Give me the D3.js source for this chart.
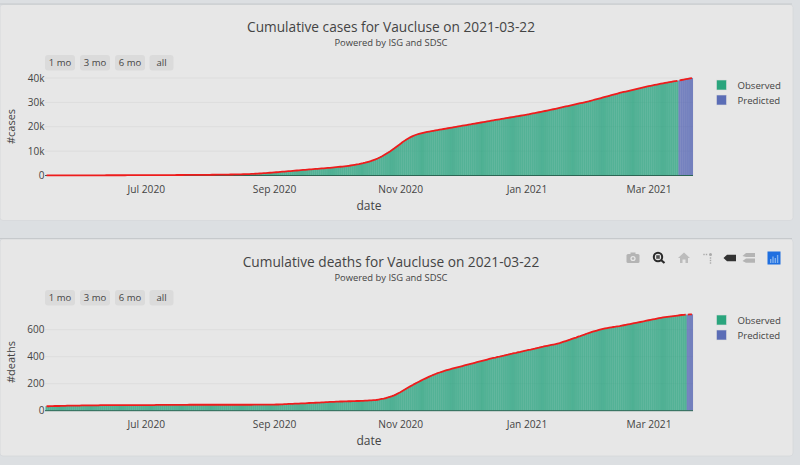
<!DOCTYPE html>
<html lang="en">
<head>
<meta charset="UTF-8">
<title>Vaucluse</title>
<script src="https://cdn.jsdelivr.net/npm/d3@7/dist/d3.min.js"></script>
<style>
    html, body { margin: 0; padding: 0; background: #dcdfe2; overflow: hidden; }
    svg { display: block; font-family: "Open Sans", sans-serif; }
    .domain { display: none; }
</style>
</head>
<body>
<svg id="chart" width="800" height="465"></svg>
<script>
// daily values, 14 May 2020 onwards
const casesMay = [52,54,55,57,58,60,61,62,64,65,66,68,69,70,72,73,74,75];
const casesJun = [76,78,79,81,82,84,85,87,88,90,92,94,96,98,100,102,104,106,108,110,112,115,118,120,123,126,129,132,135,138];
const casesJul = [141,145,148,151,155,158,162,166,170,174,178,182,186,191,195,200,205,210,215,220,225,231,236,242,248,254,260,266,272,278,285];
const casesAug = [295,305,315,325,335,346,357,368,380,392,404,416,430,445,460,480,505,530,560,595,635,680,725,775,830,885,945,1005,1070,1135,1200];
const casesSep = [1270,1340,1410,1480,1550,1620,1690,1760,1830,1900,1975,2050,2125,2200,2270,2340,2410,2480,2545,2610,2680,2750,2820,2890,2960,3030,3100,3170,3250,3330];
const casesOct = [3420,3500,3590,3680,3770,3870,3980,4100,4230,4370,4520,4680,4860,5050,5260,5490,5730,5990,6300,6620,6980,7380,7820,8300,8800,9300,9850,10450,11050,11680,12320];
const casesNov = [12960,13600,14200,14780,15300,15750,16150,16500,16820,17080,17320,17530,17720,17880,18030,18180,18330,18480,18630,18780,18930,19080,19230,19380,19530,19680,19830,19980,20130,20280];
const casesDec = [20420,20570,20710,20860,21000,21150,21300,21440,21590,21740,21880,22030,22180,22330,22490,22630,22780,22920,23070,23210,23360,23500,23650,23790,23930,24080,24220,24360,24510,24650,24790];
const casesJan = [24930,25100,25270,25440,25610,25780,25950,26120,26290,26460,26640,26820,27000,27180,27370,27560,27750,27940,28130,28320,28510,28700,28890,29080,29270,29460,29650,29840,30030,30220,30410];
const casesFeb = [30640,30870,31100,31330,31560,31790,32020,32250,32480,32710,32940,33170,33400,33630,33860,34060,34260,34460,34660,34860,35060,35260,35460,35660,35860,36060,36260,36460];
const casesMar = [36640,36810,36980,37150,37320,37490,37660,37820,37980,38140,38300,38450,38590,38720,38850];
const casesPredicted = [39020,39180,39340,39500,39660,39820,39980];

const deathsMay = [33,33,34,34,35,35,35,36,36,36,37,37,37,38,38,38,38,39];
const deathsJun = [39,39,39,40,40,40,40,40,41,41,41,41,41,41,41,42,42,42,42,42,42,42,42,42,42,42,42,42,42,42];
const deathsJul = [42,42,42,42,42,43,43,43,43,43,43,43,43,43,43,43,43,43,43,43,43,44,44,44,44,44,44,44,44,44,44];
const deathsAug = [44,44,44,44,44,44,44,44,44,44,44,44,44,44,44,44,44,44,44,44,44,45,45,45,45,45,45,45,45,45,45];
const deathsSep = [45,46,46,47,47,48,49,50,50,51,52,53,53,54,55,55,56,57,58,58,59,60,60,61,62,63,64,65,65,66];
const deathsOct = [67,67,68,68,69,69,70,70,71,71,72,72,73,73,74,75,76,77,78,79,81,84,87,90,94,98,103,108,114,121,129];
const deathsNov = [137,146,155,164,173,182,190,199,207,215,223,231,238,245,252,259,266,272,278,283,288,293,298,303,307,311,315,319,323,327];
const deathsDec = [331,335,339,343,347,351,355,359,363,367,371,375,379,383,387,391,394,398,401,405,408,412,415,419,422,426,429,433,436,440,443];
const deathsJan = [446,450,453,457,460,464,467,471,474,478,481,484,487,490,493,497,501,506,511,516,521,526,532,537,542,548,553,559,564,570,575];
const deathsFeb = [580,585,590,594,598,602,606,609,612,615,618,620,622,625,627,630,633,636,639,642,645,648,651,654,657,660,663,667];
const deathsMar = [670,673,676,679,682,685,688,691,693,695,697,699,701,703,705,707,709,710,711];
const deathsPredicted = [712,713,714];

const casesObserved = [].concat(casesMay, casesJun, casesJul, casesAug, casesSep, casesOct, casesNov, casesDec, casesJan, casesFeb, casesMar);
const deathsObserved = [].concat(deathsMay, deathsJun, deathsJul, deathsAug, deathsSep, deathsOct, deathsNov, deathsDec, deathsJan, deathsFeb, deathsMar);

const dateTicks = ["2020-07-01", "2020-09-01", "2020-11-01", "2021-01-01", "2021-03-01"];
const rangeButtons = ["1 mo", "3 mo", "6 mo", "all"];
const legendNames = ["Observed", "Predicted"];
const casesTicks = [0, 10000, 20000, 30000, 40000];
const deathsTicks = [0, 200, 400, 600];

const firstDay = new Date(Date.UTC(2020, 4, 14));
const dayFromIndex = i => d3.utcDay.offset(firstDay, i);

const svg = d3.select("#chart");
const textColor = "#444";
const observedColor = "#1b9e77";
const predictedColor = "#4a5cb0";

function drawPanel(opts) {
    const g = svg.append("g").attr("transform", `translate(0,${opts.top})`);

    // card, with the darker edge along its top
    g.append("rect").attr("x", 0).attr("y", 0).attr("width", 793).attr("height", opts.cardHeight)
        .attr("rx", 3).attr("fill", "#e7e7e7").attr("stroke", "#d6d8da").attr("stroke-width", 0.8);
    g.append("line").attr("x1", 0).attr("x2", 792).attr("y1", -0.5).attr("y2", -0.5)
        .attr("stroke", "#c6c9cc").attr("stroke-width", 1.2);

    g.append("text").attr("x", 391).attr("y", 27.8).attr("text-anchor", "middle")
        .attr("font-size", 13.7).attr("fill", textColor).text(opts.title);
    g.append("text").attr("x", 391).attr("y", 41.8).attr("text-anchor", "middle")
        .attr("font-size", 9.4).attr("fill", textColor).text("Powered by ISG and SDSC");

    const x = d3.scaleUtc()
        .domain([d3.utcHour.offset(firstDay, -12), d3.utcHour.offset(dayFromIndex(312), 12)])
        .range([45.5, 693]);
    const y = d3.scaleLinear().domain(opts.yDomain).range([opts.zeroY, opts.topY]);

    // gridlines
    g.append("g").selectAll("line").data(opts.yTicks.filter(d => d > 0)).join("line")
        .attr("x1", 45).attr("x2", 693)
        .attr("y1", d => y(d)).attr("y2", d => y(d))
        .attr("stroke", "#dddddd").attr("stroke-width", 1);

    const observed = opts.observed.map((v, i) => ({ day: dayFromIndex(i), v }));
    const predicted = opts.predicted.map((v, i) => ({ day: dayFromIndex(opts.observed.length + i), v }));

    function bars(rows, fill) {
        g.append("g").selectAll("rect").data(rows).join("rect")
            .attr("x", d => x(d3.utcHour.offset(d.day, -12)))
            .attr("width", d => x(d3.utcHour.offset(d.day, 12)) - x(d3.utcHour.offset(d.day, -12)))
            .attr("y", d => y(d.v))
            .attr("height", d => y(0) - y(d.v))
            .attr("fill", fill).attr("fill-opacity", 0.72)
            .attr("stroke", fill).attr("stroke-width", 0.3).attr("stroke-opacity", 0.2);
    }
    bars(observed, observedColor);
    bars(predicted, predictedColor);

    // dark base of the bars
    g.append("line").attr("x1", 45).attr("x2", 693)
        .attr("y1", y(0)).attr("y2", y(0))
        .attr("stroke", "#2c6654").attr("stroke-width", 1);

    const line = d3.line().x(d => x(d.day)).y(d => y(d.v)).curve(d3.curveLinear);
    [observed, predicted].forEach(rows => {
        g.append("path").datum(rows).attr("d", line)
            .attr("fill", "none").attr("stroke", "#ee1c1c").attr("stroke-width", 1.8);
    });

    // axes
    const xAxis = d3.axisBottom(x)
        .tickValues(dateTicks.map(d => new Date(d + "T00:00:00Z")))
        .tickFormat(d3.utcFormat("%b %Y"))
        .tickSize(0).tickPadding(0);
    const xg = g.append("g").attr("transform", `translate(0,${opts.zeroY + 10})`).call(xAxis);
    xg.selectAll("text").attr("font-size", 10.2).attr("fill", textColor).attr("font-family", "Open Sans");

    const yAxis = d3.axisLeft(y).tickValues(opts.yTicks).tickFormat(opts.yFormat).tickSize(0).tickPadding(0);
    const yg = g.append("g").attr("transform", "translate(44.5,0)").call(yAxis);
    yg.selectAll("text").attr("font-size", 10).attr("fill", textColor).attr("font-family", "Open Sans");

    g.append("text").attr("text-anchor", "middle").attr("font-size", 11).attr("fill", textColor)
        .attr("transform", `translate(15,${opts.titleY}) rotate(-90)`).text(opts.yLabel);
    g.append("text").attr("x", 369).attr("y", opts.zeroY + 34.5).attr("text-anchor", "middle")
        .attr("font-size", 12).attr("fill", textColor).text("date");

    // range selector
    const buttonX = [45, 80, 115, 149.5];
    const buttonW = [30, 30, 30, 24];
    const btn = g.append("g").selectAll("g").data(rangeButtons).join("g")
        .attr("transform", (d, i) => `translate(${buttonX[i]},${opts.buttonY})`);
    btn.append("rect").attr("width", (d, i) => buttonW[i]).attr("height", 15.5).attr("rx", 3).attr("fill", "#dbdbdb");
    btn.append("text").attr("x", (d, i) => buttonW[i] / 2).attr("y", 11.3).attr("text-anchor", "middle")
        .attr("font-size", 9.5).attr("fill", textColor).text(d => d);

    // legend
    const leg = g.append("g").selectAll("g").data(legendNames).join("g")
        .attr("transform", (d, i) => `translate(716.5,${opts.legendY + i * 15})`);
    leg.append("rect").attr("width", 10).attr("height", 10)
        .attr("fill", (d, i) => i === 0 ? "#2aa57d" : "#5b6db6")
        .attr("stroke", "#dcdcdc").attr("stroke-width", 0.6);
    leg.append("text").attr("x", 21).attr("y", 8.8).attr("font-size", 9.6).attr("fill", textColor).text(d => d);

    return g;
}

drawPanel({
    top: 4.5, cardHeight: 216, title: "Cumulative cases for Vaucluse on 2021-03-22",
    observed: casesObserved, predicted: casesPredicted,
    yDomain: [0, 40000], yTicks: casesTicks, yFormat: d3.format("~s"), yLabel: "#cases",
    zeroY: 171, topY: 73.5, titleY: 122, buttonY: 50.5, legendY: 75.5
});

const lower = drawPanel({
    top: 239, cardHeight: 217, title: "Cumulative deaths for Vaucluse on 2021-03-22",
    observed: deathsObserved, predicted: deathsPredicted,
    yDomain: [0, 600], yTicks: deathsTicks, yFormat: d3.format("d"), yLabel: "#deaths",
    zeroY: 171.7, topY: 90.7, titleY: 123, buttonY: 51, legendY: 76
});

// toolbar, top right of the lower card
const bar = lower.append("g").attr("transform", "translate(0,19)");
const grey = "#b4b4b4";
const camera = bar.append("g").attr("transform", "translate(633,0)");
camera.append("rect").attr("x", -6.5).attr("y", -4).attr("width", 13).attr("height", 9).attr("rx", 1.5).attr("fill", grey);
camera.append("rect").attr("x", -2.5).attr("y", -5.5).attr("width", 5).attr("height", 2).attr("fill", grey);
camera.append("circle").attr("r", 2.6).attr("cy", 0.5).attr("fill", "#e7e7e7");
camera.append("circle").attr("r", 1.3).attr("cy", 0.5).attr("fill", grey);

const zoomIcon = bar.append("g").attr("transform", "translate(658,-1)");
zoomIcon.append("circle").attr("r", 4.2).attr("fill", "none").attr("stroke", "#2a2a2a").attr("stroke-width", 2);
zoomIcon.append("rect").attr("x", -1.8).attr("y", -1.8).attr("width", 3.6).attr("height", 3.6).attr("fill", "#555");
zoomIcon.append("line").attr("x1", 3).attr("y1", 3).attr("x2", 6.5).attr("y2", 6)
    .attr("stroke", "#2a2a2a").attr("stroke-width", 2.2);

bar.append("path").attr("transform", "translate(684,0)").attr("fill", "#bcbcbc")
    .attr("d", "M-6,0 L0,-5.5 L6,0 L4,0 L4,5 L1.5,5 L1.5,1.5 L-1.5,1.5 L-1.5,5 L-4,5 L-4,0 Z");

const spike = bar.append("g").attr("transform", "translate(709,0)");
spike.append("circle").attr("cx", 1.5).attr("cy", -3.5).attr("r", 1.5).attr("fill", "#aaa");
[[-5, -3.5], [-2.5, -3.5], [1.5, 0], [1.5, 2.5], [1.5, 5]].forEach(p => {
    spike.append("rect").attr("x", p[0] - 0.7).attr("y", p[1] - 0.7).attr("width", 1.4).attr("height", 1.4).attr("fill", "#aaa");
});

bar.append("path").attr("transform", "translate(730,0)").attr("fill", "#333")
    .attr("d", "M-6.5,0 L-3,-3.2 L6,-3.2 L6,3.2 L-3,3.2 Z");

const stacked = bar.append("g").attr("transform", "translate(749,0)").attr("fill", "#b4b4b4");
stacked.append("path").attr("d", "M-6.5,-2 L-3,-5 L6,-5 L6,-1 L-3,-1 Z");
stacked.append("path").attr("d", "M-6.5,3 L-3,0.5 L6,0.5 L6,4.8 L-3,4.8 Z");

const logo = bar.append("g").attr("transform", "translate(774,0)");
logo.append("rect").attr("x", -6.5).attr("y", -6.5).attr("width", 13).attr("height", 13).attr("fill", "#1f6fe0");
[[-4, 1], [-1.7, -1.5], [0.6, 0], [2.9, -3]].forEach(p => {
    logo.append("rect").attr("x", p[0]).attr("y", p[1]).attr("width", 1.4).attr("height", 5 - p[1]).attr("fill", "#7fb0ee");
});
</script>
</body>
</html>
